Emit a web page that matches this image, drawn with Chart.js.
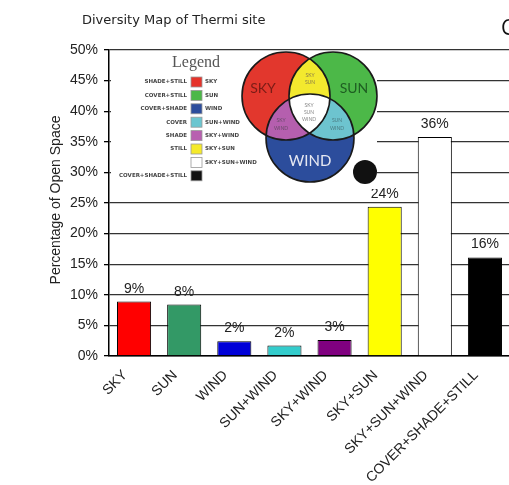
<!DOCTYPE html>
<html>
<head>
<meta charset="utf-8">
<script src="https://cdn.jsdelivr.net/npm/chart.js@4/dist/chart.umd.min.js"></script>
<style>
  html, body { margin: 0; padding: 0; background: #fff; overflow: hidden; width: 509px; height: 485px; }
  canvas { display: block; }
</style>
</head>
<body>
<canvas id="chart" width="510" height="485" style="width:510px;height:485px"></canvas>
<script>
// Share of open space per microclimate combination (percent)
const categories = ['SKY', 'SUN', 'WIND', 'SUN+WIND', 'SKY+WIND', 'SKY+SUN', 'SKY+SUN+WIND', 'COVER+SHADE+STILL'];
const shares = [8.9, 8.4, 2.4, 1.7, 2.6, 24.4, 35.8, 16.1];
const barColors = ['#ff0000', '#339966', '#0000d8', '#33cccc', '#800080', '#ffff00', '#ffffff', '#000000'];
const yTickValues = [0, 5, 10, 15, 20, 25, 30, 35, 40, 45, 50];

// Key beside the diagram: condition pairs and swatches
const keyLeft = ['SHADE+STILL', 'COVER+STILL', 'COVER+SHADE', 'COVER', 'SHADE', 'STILL', '', 'COVER+SHADE+STILL'];
const keyRight = ['SKY', 'SUN', 'WIND', 'SUN+WIND', 'SKY+WIND', 'SKY+SUN', 'SKY+SUN+WIND', ''];
const keyColors = ['#e5332a', '#4cb848', '#2c4d9c', '#6cc6d0', '#b860b0', '#f5ea2a', '#ffffff', '#111111'];

const SANS = '"Liberation Sans", Arial, sans-serif';

function drawVenn(ctx) {
  const r = 44;
  const sky = [286, 96], sun = [333, 96], wind = [310, 138];
  const circle = (p) => { ctx.beginPath(); ctx.arc(p[0], p[1], r, 0, Math.PI * 2); };
  const fillCircle = (p, col) => { circle(p); ctx.fillStyle = col; ctx.fill(); };
  const lens = (a, b, col) => {
    ctx.save(); circle(a); ctx.clip(); fillCircle(b, col); ctx.restore();
  };
  fillCircle(sky, '#e2372d');
  fillCircle(sun, '#4cb848');
  fillCircle(wind, '#2c4d9c');
  lens(sky, sun, '#f3e92e');
  lens(sky, wind, '#b55fae');
  lens(sun, wind, '#6dc4cf');
  ctx.save(); circle(sky); ctx.clip(); circle(sun); ctx.clip(); fillCircle(wind, '#ffffff'); ctx.restore();
  ctx.strokeStyle = '#1a1a1a'; ctx.lineWidth = 1.6;
  [sky, sun, wind].forEach(p => { circle(p); ctx.stroke(); });

  // black dot
  ctx.beginPath(); ctx.arc(365, 172, 12, 0, Math.PI * 2); ctx.fillStyle = '#111'; ctx.fill();

  ctx.textAlign = 'center'; ctx.textBaseline = 'alphabetic';
  ctx.font = '14px Lato, "Open Sans", sans-serif';
  ctx.fillStyle = '#7a1c16'; ctx.fillText('SKY', 263, 93);
  ctx.fillStyle = '#1e5e22'; ctx.fillText('SUN', 354, 93);
  ctx.font = '15px Lato, "Open Sans", sans-serif';
  ctx.fillStyle = '#e6e8f2'; ctx.fillText('WIND', 310, 166);

  ctx.font = '5px Lato, sans-serif';
  ctx.fillStyle = '#8a7d4a';
  ctx.fillText('SKY', 310, 77); ctx.fillText('SUN', 310, 84);
  ctx.fillStyle = '#888';
  ctx.fillText('SKY', 309, 107); ctx.fillText('SUN', 309, 114); ctx.fillText('WIND', 309, 121);
  ctx.fillStyle = '#6a4a6a';
  ctx.fillText('SKY', 281, 122); ctx.fillText('WIND', 281, 130);
  ctx.fillStyle = '#4a7a80';
  ctx.fillText('SUN', 337, 122); ctx.fillText('WIND', 337, 130);
}

function drawKey(ctx) {
  ctx.fillStyle = '#555';
  ctx.font = '16px "Liberation Serif", "DejaVu Serif", serif';
  ctx.textAlign = 'center'; ctx.textBaseline = 'alphabetic';
  ctx.fillText('Legend', 196, 67);
  ctx.font = 'bold 5.5px "DejaVu Sans", sans-serif';
  ctx.textBaseline = 'middle';
  for (let i = 0; i < keyColors.length; i++) {
    const y = 82 + i * 13.4;
    ctx.fillStyle = keyColors[i];
    ctx.fillRect(191, y - 5, 11, 10);
    ctx.strokeStyle = '#999'; ctx.lineWidth = 0.8;
    ctx.strokeRect(191, y - 5, 11, 10);
    ctx.fillStyle = '#444';
    ctx.textAlign = 'right'; ctx.fillText(keyLeft[i], 187, y);
    ctx.textAlign = 'left'; ctx.fillText(keyRight[i], 205, y);
  }
}

const decorations = {
  id: 'decorations',
  afterDraw(chart) {
    const ctx = chart.ctx;
    ctx.save();
    // title
    ctx.fillStyle = '#222';
    ctx.font = '13px "DejaVu Sans", Verdana, sans-serif';
    ctx.textAlign = 'left'; ctx.textBaseline = 'alphabetic';
    ctx.fillText('Diversity Map of Thermi site', 82, 24);
    ctx.font = '21px "Open Sans", sans-serif';
    ctx.fillStyle = '#111';
    ctx.fillText('C', 501, 35);

    // y axis title
    ctx.save();
    ctx.translate(60, 200);
    ctx.rotate(-Math.PI / 2);
    ctx.font = '14px ' + SANS;
    ctx.fillStyle = '#222';
    ctx.textAlign = 'center';
    ctx.fillText('Percentage of Open Space', 0, 0);
    ctx.restore();

    // category labels, slanted
    const xs = chart.scales.x;
    ctx.font = '14px ' + SANS;
    ctx.fillStyle = '#222';
    ctx.textAlign = 'right'; ctx.textBaseline = 'middle';
    categories.forEach((lab, i) => {
      const x = xs.getPixelForValue(i);
      ctx.save();
      ctx.translate(x - 9, 373);
      ctx.rotate(-Math.PI / 4);
      ctx.fillText(lab, 0, 0);
      ctx.restore();
    });

    // value labels above bars
    const meta = chart.getDatasetMeta(0);
    ctx.textAlign = 'center'; ctx.textBaseline = 'alphabetic';
    meta.data.forEach((bar, i) => {
      ctx.fillText(Math.round(shares[i]) + '%', bar.x, bar.y - 9);
    });

    // inset diagram with its key on a white panel
    ctx.fillStyle = '#ffffff';
    ctx.fillRect(111, 53, 266, 136);
    drawKey(ctx);
    drawVenn(ctx);
    ctx.restore();
  }
};

new Chart(document.getElementById('chart'), {
  type: 'bar',
  data: {
    labels: categories,
    datasets: [{
      data: shares,
      backgroundColor: barColors,
      borderColor: '#000',
      borderWidth: 1,
      categoryPercentage: 1,
      barPercentage: 0.68
    }]
  },
  options: {
    responsive: false,
    animation: false,
    devicePixelRatio: 1,
    layout: { padding: { top: 50, left: 0, right: 0, bottom: 0 } },
    plugins: { legend: { display: false }, tooltip: { enabled: false } },
    scales: {
      x: {
        grid: { display: false },
        border: { display: true, color: '#000', width: 1.5 },
        ticks: { display: false },
        afterFit(scale) { scale.height = 129; scale.paddingLeft = 0; scale.paddingRight = 0; }
      },
      y: {
        min: 0, max: 50,
        afterBuildTicks(scale) { scale.ticks = yTickValues.map(v => ({ value: v })); },
        grid: { color: '#333', lineWidth: 1.3, tickLength: 5, tickColor: '#000', drawTicks: true },
        border: { display: true, color: '#000', width: 1.5 },
        ticks: {
          padding: 6,
          color: '#222',
          font: { family: SANS, size: 14 },
          callback: v => v + '%'
        },
        afterFit(scale) { scale.width = 109; }
      }
    }
  },
  plugins: [decorations]
});
</script>
</body>
</html>
